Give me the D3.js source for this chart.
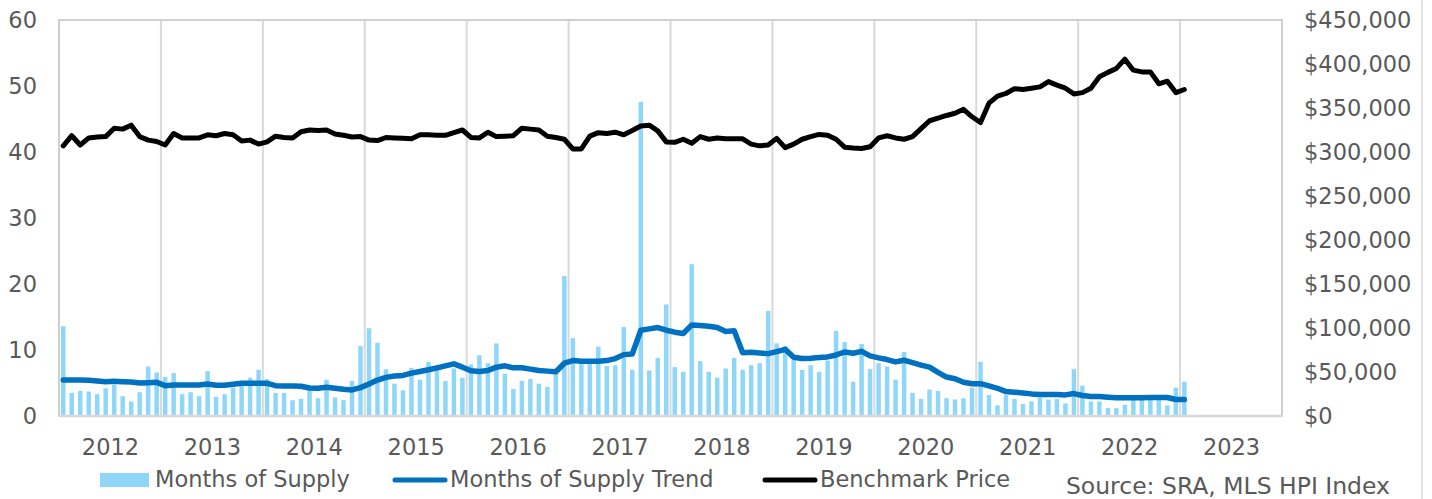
<!DOCTYPE html>
<html>
<head>
<meta charset="utf-8">
<script src="https://cdn.jsdelivr.net/npm/d3@7"></script>
<style>
  html, body { margin: 0; padding: 0; background: #fff; }
  #chart { width: 1432px; height: 499px; }
  text { font-family: "DejaVu Sans", Verdana, sans-serif; fill: #595959; }
</style>
</head>
<body>
<div id="chart"></div>
<script>
// year labels on the x axis (one band of 12 months each)
const yearLabels = ['2012', '2013', '2014', '2015', '2016', '2017', '2018', '2019', '2020', '2021', '2022', '2023'];

// monthly values
const monthsOfSupply = [
    13.6, 3.5, 3.8, 3.7, 3.3, 4.2, 4.7, 3.0, 2.2, 3.6, 7.5, 6.6,
    5.9, 6.5, 3.3, 3.6, 3.0, 6.8, 2.9, 3.3, 4.3, 4.6, 5.8, 7.0,
    5.6, 3.5, 3.5, 2.4, 2.6, 3.9, 2.7, 5.5, 2.8, 2.4, 5.3, 10.6,
    13.3, 11.1, 7.1, 4.9, 3.9, 7.3, 5.5, 8.2, 7.0, 5.3, 7.2, 5.8,
    7.8, 9.2, 8.0, 11.0, 6.4, 4.1, 5.3, 5.6, 4.9, 4.4, 6.4, 21.2,
    11.8, 8.0, 8.0, 10.5, 7.6, 7.7, 13.5, 7.0, 47.6, 6.9, 8.8, 16.9,
    7.4, 6.7, 23.0, 8.3, 6.7, 5.8, 7.2, 8.8, 7.0, 7.7, 8.0, 15.9,
    11.0, 10.6, 8.5, 7.0, 7.7, 6.7, 8.4, 12.9, 11.2, 5.2, 10.9, 7.1,
    8.0, 7.5, 5.5, 9.7, 3.5, 2.6, 4.0, 3.8, 2.7, 2.5, 2.7, 4.3,
    8.2, 3.2, 1.6, 3.2, 2.6, 1.8, 2.2, 2.8, 2.5, 2.6, 1.9, 7.1,
    4.6, 2.2, 2.2, 1.2, 1.2, 1.7, 2.5, 2.5, 2.6, 2.6, 1.6, 4.3,
    5.2
];

const supplyTrend = [
    5.45, 5.45, 5.45, 5.4, 5.3, 5.2, 5.25, 5.2, 5.15, 5.0, 5.05, 5.1,
    4.6, 4.7, 4.7, 4.7, 4.7, 4.85, 4.65, 4.65, 4.8, 4.95, 4.95, 4.95,
    4.95, 4.6, 4.55, 4.55, 4.5, 4.25, 4.2, 4.35, 4.2, 4.05, 3.95, 4.3,
    4.85, 5.45, 5.85, 6.05, 6.15, 6.5, 6.75, 7.0, 7.3, 7.6, 7.9, 7.4,
    6.85, 6.75, 6.9, 7.4, 7.6, 7.3, 7.3, 7.1, 6.9, 6.8, 6.7, 8.0,
    8.4, 8.3, 8.3, 8.3, 8.4, 8.7, 9.3, 9.4, 13.0, 13.2, 13.4, 13.0,
    12.7, 12.5, 13.8, 13.7, 13.6, 13.4, 12.8, 12.9, 9.6, 9.65, 9.55, 9.45,
    9.75, 10.1, 8.9, 8.7, 8.75, 8.85, 8.95, 9.25, 9.7, 9.5, 9.8, 9.1,
    8.8, 8.55, 8.2, 8.45, 8.1, 7.7, 7.4, 6.6, 5.9, 5.65, 5.1, 4.9,
    4.9, 4.55, 4.2, 3.7, 3.6, 3.5, 3.35, 3.25, 3.25, 3.25, 3.2, 3.4,
    3.1, 2.95, 2.95, 2.85, 2.75, 2.75, 2.75, 2.75, 2.8, 2.8, 2.8, 2.5,
    2.5
];

const benchmarkPrice = [
    307000, 318500, 308000, 316000, 317000, 317500, 327000, 326000, 330500, 317500, 313500, 312000,
    308000, 321000, 316000, 316000, 316000, 319500, 318500, 321000, 319500, 312500, 313500, 309000,
    311500, 318000, 316500, 316000, 323000, 325000, 324500, 325000, 320500, 319000, 317000, 317500,
    313500, 313000, 316500, 316000, 315500, 315000, 319500, 319500, 319000, 319000, 322000, 325000,
    316500, 316000, 322500, 317500, 318000, 318500, 327000, 326000, 325000, 318000, 316500, 314500,
    303500, 303500, 318000, 322000, 321000, 322500, 319500, 324500, 329500, 330500, 324000, 311500,
    311000, 314500, 310000, 317500, 314500, 316000, 315000, 315000, 315000, 309000, 307000, 308000,
    315500, 305000, 309000, 314500, 317500, 320000, 319000, 314500, 305500, 304500, 304000, 306000,
    316000, 318500, 316000, 314500, 317500, 326500, 335500, 338500, 341500, 344000, 348500, 340000,
    333500, 355500, 363500, 366500, 372000, 371000, 372500, 374000, 380000, 376000, 372500, 366000,
    367500, 372500, 385500, 390500, 395000, 405500, 393000, 391000, 391000, 377500, 380500, 367500,
    371000
];

const seriesNames = ['Months of Supply', 'Months of Supply Trend', 'Benchmark Price'];
const sourceNote = 'Source: SRA, MLS HPI Index';

const width = 1432;
const height = 499;
const margin = { top: 20, right: 150, bottom: 83, left: 59 };
const plotW = width - margin.left - margin.right;
const plotH = height - margin.top - margin.bottom;

const barColor = '#8fd7f8';
const trendColor = '#0070c0';
const priceColor = '#000000';
const gridColor = '#d9d9d9';

const svg = d3.select('#chart')
    .append('svg')
    .attr('width', width)
    .attr('height', height);

const slots = yearLabels.length * 12;
const x = d3.scaleLinear().domain([0, slots]).range([margin.left, margin.left + plotW]);
const yL = d3.scaleLinear().domain([0, 60]).range([margin.top + plotH, margin.top]);
const yR = d3.scaleLinear().domain([0, 450000]).range([margin.top + plotH, margin.top]);

const step = x(1) - x(0);
const barW = step * 0.53;

// vertical gridlines at year boundaries
svg.append('g')
    .selectAll('line')
    .data(d3.range(1, yearLabels.length))
    .join('line')
    .attr('x1', d => x(d * 12))
    .attr('x2', d => x(d * 12))
    .attr('y1', margin.top)
    .attr('y2', margin.top + plotH)
    .attr('stroke', gridColor)
    .attr('stroke-width', 2);

// plot border
svg.append('rect')
    .attr('x', margin.left)
    .attr('y', margin.top)
    .attr('width', plotW)
    .attr('height', plotH)
    .attr('fill', 'none')
    .attr('stroke', '#cfcfcf')
    .attr('stroke-width', 2);

// bars
svg.append('g')
    .selectAll('rect')
    .data(monthsOfSupply)
    .join('rect')
    .attr('x', (d, i) => x(i + 0.5) - barW / 2)
    .attr('y', d => yL(d))
    .attr('width', barW)
    .attr('height', d => yL(0) - yL(d))
    .attr('fill', barColor);

// bottom axis line
svg.append('line')
    .attr('x1', margin.left)
    .attr('x2', margin.left + plotW)
    .attr('y1', yL(0))
    .attr('y2', yL(0))
    .attr('stroke', gridColor)
    .attr('stroke-width', 2.5);

const trendLine = d3.line()
    .x((d, i) => x(i + 0.5))
    .y(d => yL(d));

svg.append('path')
    .datum(supplyTrend)
    .attr('d', trendLine)
    .attr('fill', 'none')
    .attr('stroke', trendColor)
    .attr('stroke-width', 5.5)
    .attr('stroke-linejoin', 'round')
    .attr('stroke-linecap', 'round');

const priceLine = d3.line()
    .x((d, i) => x(i + 0.5))
    .y(d => yR(d));

svg.append('path')
    .datum(benchmarkPrice)
    .attr('d', priceLine)
    .attr('fill', 'none')
    .attr('stroke', priceColor)
    .attr('stroke-width', 5)
    .attr('stroke-linejoin', 'round')
    .attr('stroke-linecap', 'round');

// axes
const leftAxis = svg.append('g')
    .attr('transform', `translate(${margin.left},0)`)
    .call(d3.axisLeft(yL).tickValues(d3.range(0, 61, 10)).tickSize(0).tickPadding(22));

const rightAxis = svg.append('g')
    .attr('transform', `translate(${margin.left + plotW},0)`)
    .call(d3.axisRight(yR).tickValues(d3.range(0, 450001, 50000)).tickSize(0).tickPadding(22).tickFormat(d3.format('$,')));

const bottomAxis = svg.append('g')
    .attr('transform', `translate(0,${yL(0)})`)
    .call(d3.axisBottom(x)
        .tickValues(yearLabels.map((d, i) => i * 12 + 6))
        .tickFormat((d, i) => yearLabels[i])
        .tickSize(0)
        .tickPadding(23));

[leftAxis, rightAxis, bottomAxis].forEach(g => {
    g.select('.domain').remove();
    g.selectAll('text')
        .style('font-family', '"DejaVu Sans", Verdana, sans-serif')
        .style('font-size', '22.5px')
        .attr('fill', '#595959');
});

// legend
const legend = svg.append('g').attr('transform', 'translate(0,480)');
const legendX = [100, 395, 765];

legend.append('rect')
    .attr('x', legendX[0]).attr('y', -7)
    .attr('width', 49).attr('height', 14)
    .attr('fill', barColor);

[trendColor, priceColor].forEach((c, i) => {
    legend.append('line')
        .attr('x1', legendX[i + 1]).attr('x2', legendX[i + 1] + 50)
        .attr('y1', 0).attr('y2', 0)
        .attr('stroke', c)
        .attr('stroke-width', 5)
        .attr('stroke-linecap', 'round');
});

legend.selectAll('text')
    .data(seriesNames)
    .join('text')
    .attr('x', (d, i) => legendX[i] + 55)
    .attr('y', 7)
    .style('font-size', '22.5px')
    .text(d => d);

svg.append('text')
    .attr('x', 1390)
    .attr('y', 494)
    .attr('text-anchor', 'end')
    .style('font-size', '23.5px')
    .text(sourceNote);

// right edge rule
svg.append('line')
    .attr('x1', 1422).attr('x2', 1422)
    .attr('y1', 0).attr('y2', height)
    .attr('stroke', gridColor)
    .attr('stroke-width', 1.5);
</script>
</body>
</html>
